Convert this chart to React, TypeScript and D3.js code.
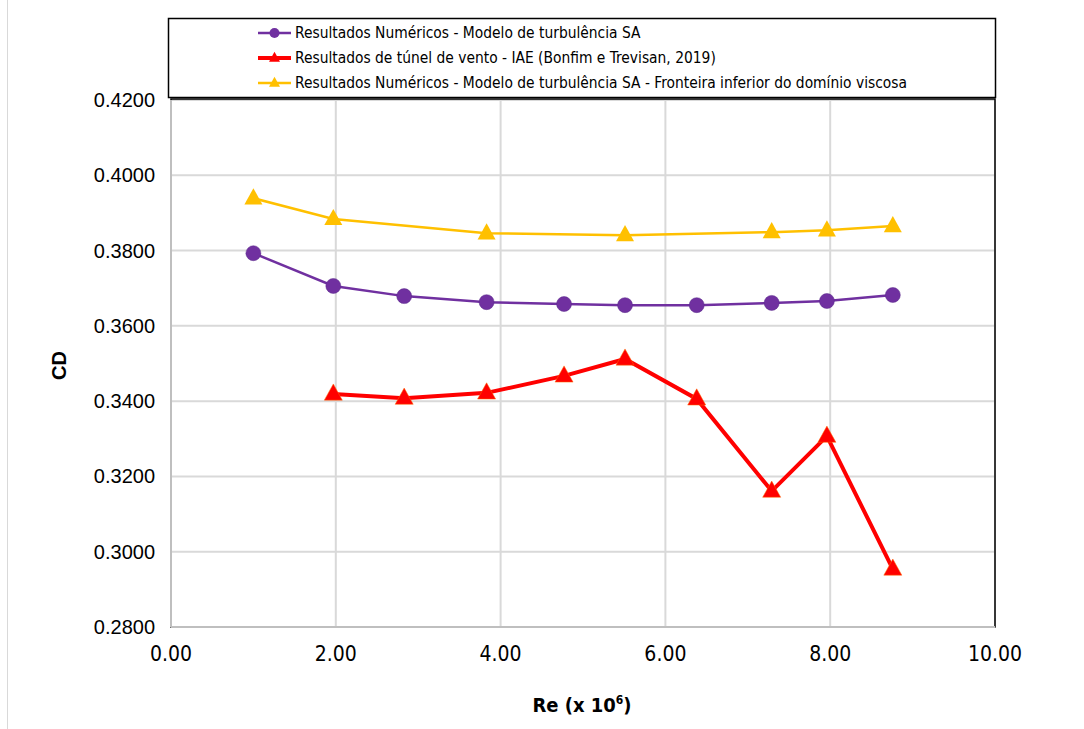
import React from "react";
import * as d3 from "d3";

const reNum = [1.0, 1.97, 2.83, 3.83, 4.77, 5.51, 6.38, 7.29, 7.96, 8.76];
const cdNum = [0.3793, 0.3706, 0.3679, 0.3663, 0.3658, 0.3655, 0.3655, 0.3661, 0.3666, 0.3682];

const reTunnel = [1.97, 2.83, 3.83, 4.77, 5.51, 6.38, 7.29, 7.96, 8.76];
const cdTunnel = [0.3419, 0.3408, 0.3422, 0.3467, 0.3512, 0.3406, 0.3161, 0.3307, 0.2954];

const reVisc = [1.0, 1.97, 3.83, 5.51, 7.29, 7.96, 8.76];
const cdVisc = [0.3939, 0.3884, 0.3846, 0.3841, 0.3849, 0.3854, 0.3865];

const xTicks = [0, 2, 4, 6, 8, 10];
const yTicks = [0.28, 0.3, 0.32, 0.34, 0.36, 0.38, 0.4, 0.42];

const legendLabels = [
  "Resultados Numéricos - Modelo de turbulência SA",
  "Resultados de túnel de vento - IAE (Bonfim e Trevisan, 2019)",
  "Resultados Numéricos - Modelo de turbulência SA - Fronteira inferior do domínio viscosa",
];

const W = 1084, H = 729;
const L = 171, R = 995, T = 100, B = 627;

const PURPLE = "#7030A0", RED = "#FF0000", YELLOW = "#FFC000";

function tri(cx: number, cy: number, s: number) {
  const h = s * 0.9;
  return `M${cx},${cy - h * 0.62} L${cx + s / 2},${cy + h * 0.38} L${cx - s / 2},${cy + h * 0.38} Z`;
}

export default function App() {
  const x = d3.scaleLinear().domain([0, 10]).range([L, R]);
  const y = d3.scaleLinear().domain([0.28, 0.42]).range([B, T]);
  const line = d3.line<[number, number]>().x(d => x(d[0])).y(d => y(d[1]));
  const num: [number, number][] = reNum.map((r, i) => [r, cdNum[i]]);
  const tun: [number, number][] = reTunnel.map((r, i) => [r, cdTunnel[i]]);
  const vis: [number, number][] = reVisc.map((r, i) => [r, cdVisc[i]]);
  const narrow = "'DejaVu Sans Condensed', 'Liberation Sans Narrow', sans-serif";
  const legendRows = [
    { label: legendLabels[0], color: PURPLE, w: 2.5, marker: "circle" },
    { label: legendLabels[1], color: RED, w: 4, marker: "tri" },
    { label: legendLabels[2], color: YELLOW, w: 2.5, marker: "tri" },
  ];
  return (
    <svg width={W} height={H} style={{ position: "absolute", left: 0, top: 0, background: "#fff" }}>
      <rect x={7.5} y={-2} width={1200} height={H + 10} fill="#fff" stroke="#d9d9d9" strokeWidth={1} />
      {/* gridlines */}
      {yTicks.map(t => (
        <line key={"gy" + t} x1={L} x2={R} y1={y(t)} y2={y(t)} stroke="#d9d9d9" strokeWidth={2} />
      ))}
      {xTicks.map(t => (
        <line key={"gx" + t} x1={x(t)} x2={x(t)} y1={T} y2={B} stroke="#d9d9d9" strokeWidth={2} />
      ))}
      <rect x={L} y={T - 1} width={R - L} height={B - T + 1} fill="none" stroke="#000" strokeWidth={1.5} />
      <line x1={L} x2={L} y1={T} y2={B} stroke="#bfbfbf" strokeWidth={2} />
      <line x1={L} x2={R} y1={B} y2={B} stroke="#bfbfbf" strokeWidth={2} />
      {/* tick labels */}
      {yTicks.map(t => (
        <text key={"ty" + t} x={155} y={y(t)} dy="0.35em" textAnchor="end" fontFamily="Arial, 'Liberation Sans', sans-serif" fontSize={20} fill="#000">
          {t.toFixed(4)}
        </text>
      ))}
      {xTicks.map(t => (
        <text key={"tx" + t} x={x(t)} y={654} dy="0.35em" textAnchor="middle" fontFamily={narrow} fontSize={21} fill="#000">
          {t.toFixed(2)}
        </text>
      ))}
      <text transform={`translate(66,${(T + B) / 2 + 2}) rotate(-90)`} textAnchor="middle" fontFamily="Arial, 'Liberation Sans', sans-serif" fontWeight="bold" fontSize={20} fill="#000">
        CD
      </text>
      <text x={582} y={712} textAnchor="middle" fontFamily={narrow} fontWeight="bold" fontSize={20} fill="#000">
        Re (x 10<tspan fontSize={12} dy={-8}>6</tspan><tspan dy={8}>)</tspan>
      </text>
      {/* series */}
      <path d={line(vis) || ""} fill="none" stroke={YELLOW} strokeWidth={2.5} />
      <path d={line(num) || ""} fill="none" stroke={PURPLE} strokeWidth={2.5} />
      <path d={line(tun) || ""} fill="none" stroke={RED} strokeWidth={4} />
      {vis.map((d, i) => (
        <path key={"mv" + i} d={tri(x(d[0]), y(d[1]), 18)} fill={YELLOW} />
      ))}
      {num.map((d, i) => (
        <circle key={"mn" + i} cx={x(d[0])} cy={y(d[1])} r={7.5} fill={PURPLE} stroke="#5a2a8a" strokeWidth={0.5} />
      ))}
      {tun.map((d, i) => (
        <path key={"mt" + i} d={tri(x(d[0]), y(d[1]), 18)} fill={RED} stroke="#ff6a00" strokeWidth={0.5} />
      ))}
      {/* legend */}
      <rect x={168.5} y={18.5} width={827} height={79} fill="#fff" stroke="#000" strokeWidth={1.5} />
      {legendRows.map((r, i) => {
        const cy = 33 + i * 25;
        return (
          <g key={"lg" + i}>
            <line x1={258} x2={291} y1={cy} y2={cy} stroke={r.color} strokeWidth={r.w} />
            {r.marker === "circle" ? (
              <circle cx={274.5} cy={cy} r={5} fill={r.color} />
            ) : (
              <path d={tri(274.5, cy, 11)} fill={r.color} />
            )}
            <text x={295} y={cy} dy="0.35em" fontFamily={narrow} fontSize={15.4} fill="#000">
              {r.label}
            </text>
          </g>
        );
      })}
    </svg>
  );
}
